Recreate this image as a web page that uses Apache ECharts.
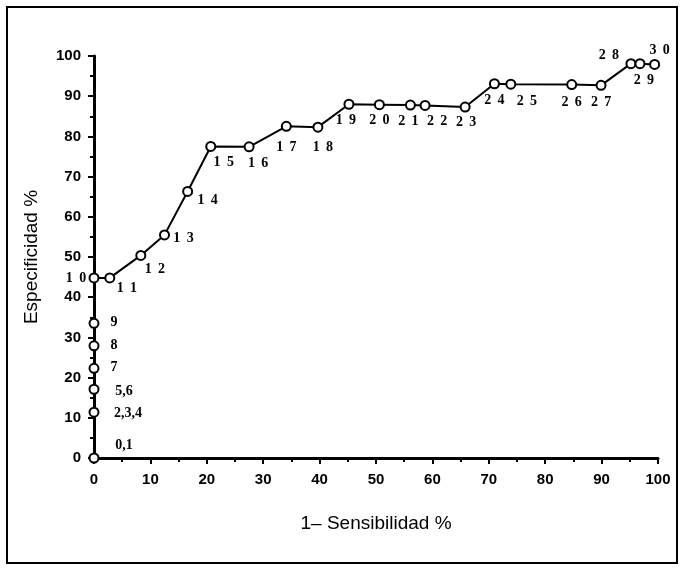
<!DOCTYPE html>
<html>
<head>
<meta charset="utf-8">
<script src="https://cdn.jsdelivr.net/npm/echarts@6/dist/echarts.min.js"></script>
<style>
html,body{margin:0;padding:0;background:#fff;}
#chart{width:684px;height:570px;}
</style>
</head>
<body>
<div id="chart"></div>
<script>
// puntos de corte (etiquetas) y coordenadas
var pointLabels = ['0,1','2,3,4','5,6','7','8','9','10','11','12','13','14','15','16','17','18','19','20','21','22','23','24','25','26','27','28','29','30'];
var oneMinusSens = [0,0,0,0,0,0,0,2.8,8.3,12.5,16.6,20.7,27.5,34.1,39.7,45.2,50.6,56.1,58.7,65.8,71.0,73.9,84.7,89.9,95.2,96.8,99.4];
var specificity = [0,11.4,17.1,22.3,27.9,33.5,44.8,44.8,50.4,55.5,66.3,77.5,77.4,82.5,82.3,88.0,87.9,87.8,87.7,87.3,93.1,93.0,92.9,92.7,98.1,98.1,97.9];
var axisTicks = [0,10,20,30,40,50,60,70,80,90,100];

// desplazamiento de cada etiqueta respecto a su punto (px)
var labelShift = [[30,-13],[34,1],[30,2],[20,-1],[20,0],[20,-1],[-18,0],[17,10],[14,14],[19,4],[20,9],[13,16],[9,17],[0,21],[5,20],[-3,16],[0,16],[-2,16],[12,16],[1,15],[0,17],[16,17],[0,18],[0,17],[-22,-8],[4,17],[5,-14]];

function spaced(t){
	return t.indexOf(',') >= 0 ? t : t.split('').join(' \u2009');
}

var chart = echarts.init(document.getElementById('chart'));
var pts = [];
for (var i = 0; i < oneMinusSens.length; i++) {
	pts.push({
		value: [oneMinusSens[i], specificity[i]],
		label: {
			show: true,
			position: 'inside',
			offset: labelShift[i],
			formatter: spaced(pointLabels[i])
		}
	});
}

var sansFont = "'Liberation Sans Narrow','Liberation Sans',Arial,sans-serif";
var option = {
	animation: false,
	backgroundColor: '#fff',
	graphic: [{
		type: 'rect',
		shape: {x: 7, y: 7, width: 670, height: 556},
		style: {fill: 'none', stroke: '#000', lineWidth: 2}
	}],
	grid: {left: 94, right: 26, top: 56, bottom: 112},
	xAxis: {
		type: 'value',
		min: 0, max: 100, interval: 10,
		name: '1\u2013 Sensibilidad %',
		nameLocation: 'middle',
		nameGap: 56,
		nameTextStyle: {fontFamily: sansFont, fontSize: 19, color: '#000'},
		axisLine: {lineStyle: {color: '#000', width: 3}},
		axisTick: {inside: false, length: 6, lineStyle: {color: '#000', width: 2}},
		minorTick: {show: true, splitNumber: 2, length: 4, lineStyle: {color: '#000', width: 2}},
		axisLabel: {margin: 14, fontFamily: sansFont, fontSize: 15, fontWeight: 'bold', color: '#000',
			customValues: axisTicks},
		splitLine: {show: false}
	},
	yAxis: {
		type: 'value',
		min: 0, max: 100, interval: 10,
		name: 'Especificidad %',
		nameLocation: 'middle',
		nameGap: 53,
		nameTextStyle: {fontFamily: sansFont, fontSize: 19, color: '#000'},
		axisLine: {show: true, lineStyle: {color: '#000', width: 3}},
		axisTick: {show: true, length: 6, lineStyle: {color: '#000', width: 2}},
		minorTick: {show: true, splitNumber: 2, length: 4, lineStyle: {color: '#000', width: 2}},
		axisLabel: {margin: 13, fontFamily: sansFont, fontSize: 15, fontWeight: 'bold', color: '#000'},
		splitLine: {show: false}
	},
	series: [{
		type: 'line',
		data: pts,
		symbol: 'circle',
		symbolSize: 9,
		itemStyle: {color: '#fff', borderColor: '#000', borderWidth: 2},
		lineStyle: {color: '#000', width: 2},
		label: {
			color: '#000',
			fontFamily: "'Liberation Serif','DejaVu Serif',serif",
			fontWeight: 'bold',
			fontSize: 14
		},
		z: 5
	}]
};
chart.setOption(option);
</script>
</body>
</html>
